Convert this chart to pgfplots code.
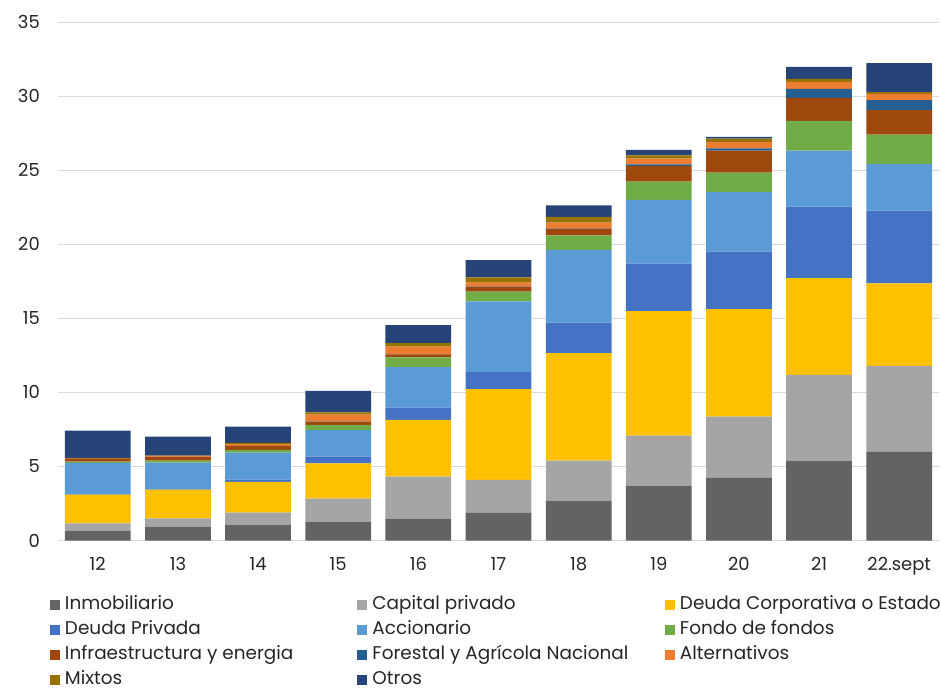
\documentclass[border=0pt]{standalone}
\usepackage{pgfplots}
\usepackage{pgfplotstable}
\pgfplotsset{compat=1.18}
\usepackage{fontspec}
\setmainfont{Poppins}
\definecolor{cInm}{HTML}{636363}
\definecolor{cCap}{HTML}{A5A5A5}
\definecolor{cDC}{HTML}{FFC000}
\definecolor{cDP}{HTML}{4472C4}
\definecolor{cAcc}{HTML}{5B9BD5}
\definecolor{cFon}{HTML}{70AD47}
\definecolor{cInf}{HTML}{9E480E}
\definecolor{cFor}{HTML}{255E91}
\definecolor{cAlt}{HTML}{ED7D31}
\definecolor{cMix}{HTML}{997300}
\definecolor{cOtr}{HTML}{264478}
\definecolor{cGrid}{HTML}{D9D9D9}
\pgfplotstableread{
x Inm Cap DC DP Acc Fon Inf For Alt Mix Otr
0 0.67 0.48 1.95 0.04 2.10 0.09 0.21 0.00 0.02 0.02 1.84
1 0.94 0.56 1.94 0.03 1.79 0.13 0.28 0.00 0.04 0.02 1.28
2 1.08 0.81 2.07 0.15 1.82 0.19 0.25 0.02 0.11 0.09 1.10
3 1.28 1.55 2.38 0.45 1.80 0.34 0.23 0.02 0.45 0.15 1.46
4 1.48 2.84 3.82 0.83 2.74 0.65 0.21 0.02 0.51 0.23 1.21
5 1.87 2.22 6.14 1.14 4.77 0.67 0.32 0.02 0.27 0.34 1.17
6 2.70 2.69 7.26 2.07 4.90 0.99 0.45 0.02 0.38 0.39 0.78
7 3.71 3.37 8.41 3.21 4.30 1.23 1.06 0.11 0.38 0.22 0.37
8 4.23 4.13 7.26 3.89 4.02 1.31 1.48 0.16 0.42 0.23 0.13
9 5.39 5.80 6.52 4.83 3.78 2.02 1.55 0.61 0.47 0.20 0.81
10 5.98 5.82 5.57 4.90 3.15 1.98 1.66 0.68 0.40 0.14 1.95
}\data
\newcommand{\legtxt}[1]{\hspace{5bp}\makebox[292.5bp][l]{#1}}
\begin{document}
\begin{tikzpicture}
\begin{axis}[
  scale only axis,
  width=881.6bp, height=518.3bp,
  ybar stacked, bar width=0.82,
  xmin=-0.5, xmax=10.5, ymin=0, ymax=35,
  xtick={0,...,10},
  xticklabels={12,13,14,15,16,17,18,19,20,21,22.sept},
  ytick={0,5,...,35},
  /pgf/number format/assume math mode=true,
  axis x line*=bottom, axis y line*=left,
  x axis line style={draw=cGrid, line width=1.5bp, -},
  y axis line style={draw=none},
  major tick length=0pt,
  ymajorgrids, grid style={draw=cGrid, line width=1bp},
  tick label style={font=\fontsize{18}{21}\selectfont, text=black!85},
  yticklabel style={inner sep=0pt, anchor=east, xshift=-17.7bp},
  xticklabel style={inner sep=0pt, anchor=north, yshift=-16.5bp},
  legend columns=3,
  legend style={draw=none, fill=none, inner sep=0pt, outer sep=0pt,
    at={(0,0)}, anchor=north west, xshift=-7.7bp, yshift=-51.5bp,
    font=\fontsize{18.5}{22}\selectfont, text=black!85,
    column sep=0pt, row sep=0pt,
    nodes={inner sep=0pt, text height=13bp, text depth=4bp, inner ysep=4bp}},
  legend image code/.code={\fill[#1] (0bp,-5bp) rectangle (10bp,5bp);},
  legend cell align=left,
]
\addplot[fill=cInm, draw=none] table[x=x,y=Inm]{\data}; \addlegendentry{\legtxt{Inmobiliario}}
\addplot[fill=cCap, draw=none] table[x=x,y=Cap]{\data}; \addlegendentry{\legtxt{Capital privado}}
\addplot[fill=cDC, draw=none] table[x=x,y=DC]{\data}; \addlegendentry{\legtxt{Deuda Corporativa o Estado}}
\addplot[fill=cDP, draw=none] table[x=x,y=DP]{\data}; \addlegendentry{\legtxt{Deuda Privada}}
\addplot[fill=cAcc, draw=none] table[x=x,y=Acc]{\data}; \addlegendentry{\legtxt{Accionario}}
\addplot[fill=cFon, draw=none] table[x=x,y=Fon]{\data}; \addlegendentry{\legtxt{Fondo de fondos}}
\addplot[fill=cInf, draw=none] table[x=x,y=Inf]{\data}; \addlegendentry{\legtxt{Infraestructura y energia}}
\addplot[fill=cFor, draw=none] table[x=x,y=For]{\data}; \addlegendentry{\legtxt{Forestal y Agrícola Nacional}}
\addplot[fill=cAlt, draw=none] table[x=x,y=Alt]{\data}; \addlegendentry{\legtxt{Alternativos}}
\addplot[fill=cMix, draw=none] table[x=x,y=Mix]{\data}; \addlegendentry{\legtxt{Mixtos}}
\addplot[fill=cOtr, draw=none] table[x=x,y=Otr]{\data}; \addlegendentry{\legtxt{Otros}}
\end{axis}
\pgfresetboundingbox
\path (-57.7bp,-148.5bp) rectangle (883.3bp,540.5bp);
\end{tikzpicture}
\end{document}
